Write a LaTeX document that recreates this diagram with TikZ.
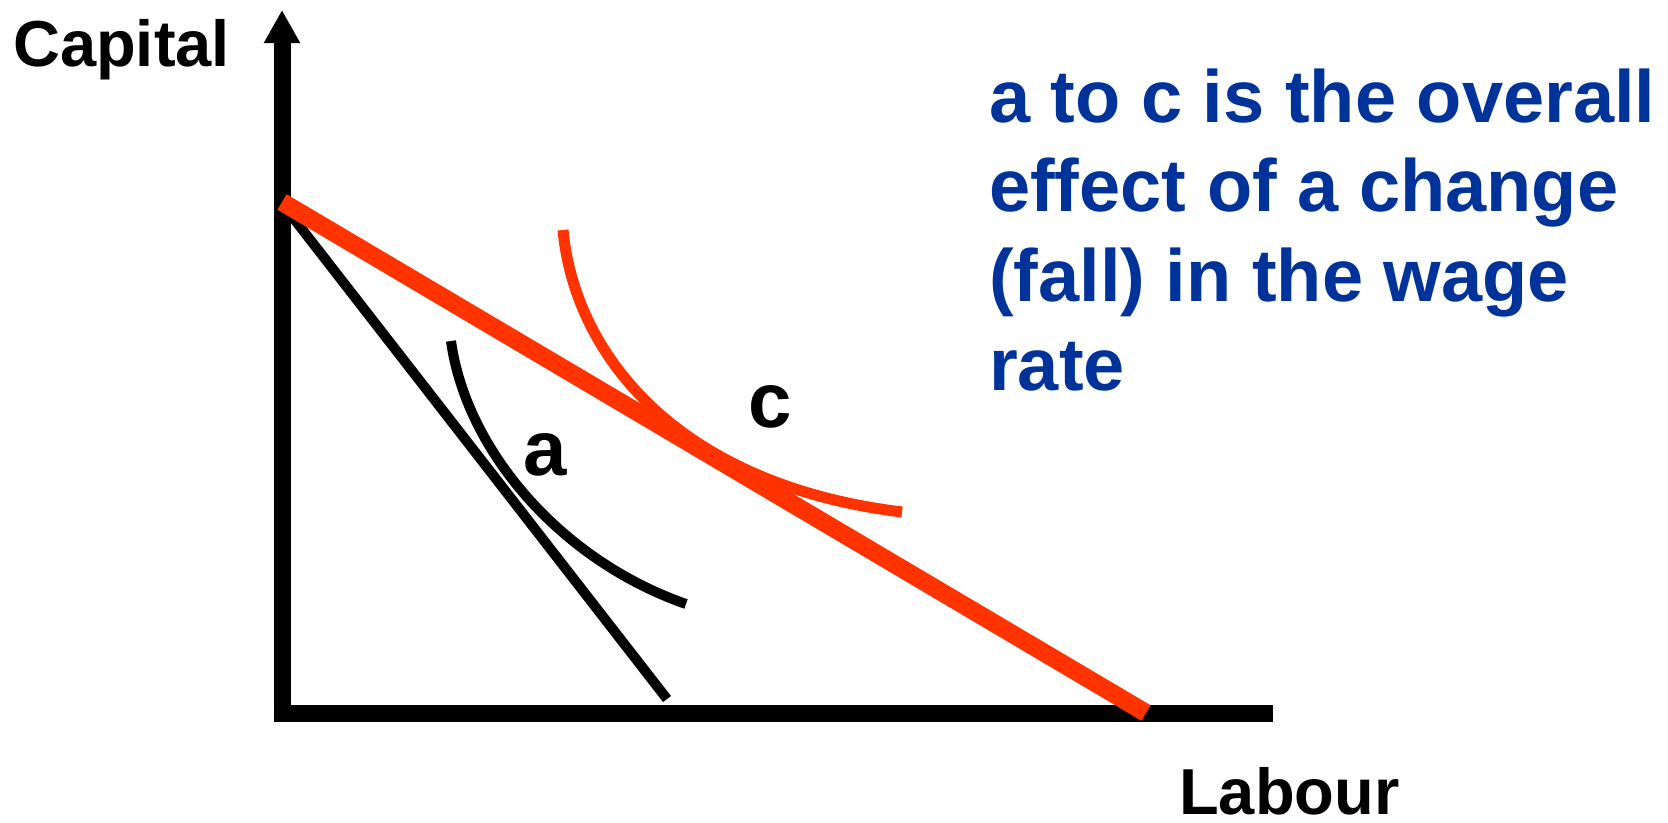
\documentclass[tikz,border=0pt]{standalone}
\usepackage{fontspec}
\setmainfont{Liberation Sans}
\usetikzlibrary{arrows.meta}
\definecolor{noteblue}{HTML}{003399}
\definecolor{shiftred}{HTML}{FF3300}
\begin{document}
\begin{tikzpicture}[x=1pt,y=-1pt,
  axis/.style={line width=17pt},
  isocost/.style={line width=10pt},
  axislabel/.style={inner sep=0pt,font=\fontsize{65}{78}\selectfont\bfseries},
  pointlabel/.style={inner sep=0pt,font=\fontsize{78}{94}\selectfont\bfseries}]
\useasboundingbox (0,0) rectangle (1668,822);
\coordinate (O) at (282,713);\coordinate (K) at (282,10);\coordinate (L) at (1273,713);
\draw[axis,-{Triangle[length=33pt,width=34pt]}] ([yshift=-8.5]O)--(K);
\draw[axis] ([xshift=-8.5]O)--(L);
\draw[isocost] (284,206)--(667,699);
\draw[isocost] (451,341) .. controls (466,450) and (560,560) .. (686,604);
\draw[shiftred,line width=18pt] (282,202)--(1146,713);
\draw[shiftred,line width=11pt] (563,230) .. controls (574,350) and (672,484) .. (902,512);
\node[axislabel,anchor=base west] (capital) at (13,66) {Capital};
\node[axislabel,anchor=base west] (labour) at (1179,814) {Labour};
\node[pointlabel] (a) at (545,455) {a};\node[pointlabel] (c) at (770,407) {c};
\node[anchor=base west,inner sep=0pt,align=left,text=noteblue,font=\fontsize{74}{89.5}\selectfont\bfseries] (note) at (989,390.5)
  {a to c is the overall\\effect of a change\\(fall) in the wage\\rate};
\end{tikzpicture}
\end{document}
